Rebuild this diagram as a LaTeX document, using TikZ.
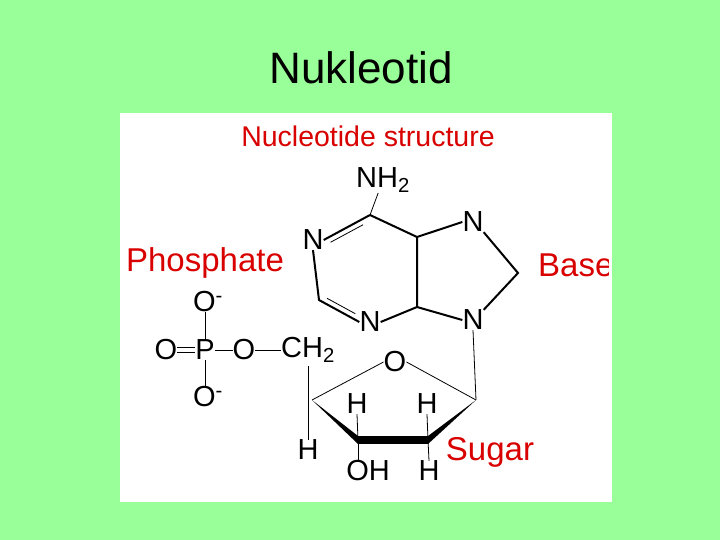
\documentclass[tikz,border=0pt]{standalone}
\usepackage{fontspec}
\setmainfont{Liberation Sans}
\usetikzlibrary{calc}
\begin{document}
\begin{tikzpicture}[x=1pt,y=-1pt,
  atom/.style={font=\fontsize{29}{29}\selectfont,inner sep=0pt},
  lab/.style={font=\fontsize{33}{33}\selectfont,text=red!85!black,inner sep=0pt},
  bond/.style={line width=2pt},
  thin/.style={line width=0.8pt}]
\fill[fill={rgb,255:red,153;green,255;blue,153}] (0,0) rectangle (720,540);
\useasboundingbox (0,0) rectangle (720,540);
\fill[white] (120,113) rectangle (612,502);
\node[font=\fontsize{44}{44}\selectfont] (title) at (361,68) {Nukleotid};
\node[font=\fontsize{28.5}{28.5}\selectfont,text=red!85!black] (sub) at (368,136) {Nucleotide structure};
\node[lab] (phos) at (205,263) {Phosphate};
\begin{scope}
\clip (120,113) rectangle (608,502);
\node[lab,anchor=west] (base) at (538,265) {Base};
\end{scope}
\node[lab] (sugar) at (490,452) {Sugar};
% base atoms
\node[atom] (nh2) at (383,180) {NH\textsubscript{2}};
\coordinate (c6) at (370,215);
\node[atom] (n1) at (313,240) {N};
\coordinate (c2) at (319,300);
\node[atom] (n3) at (370,322) {N};
\coordinate (c4) at (417,307);
\coordinate (c5) at (417,237);
\node[atom] (n7) at (473,222) {N};
\coordinate (c8) at (518,273);
\node[atom] (n9) at (473,320) {N};
\draw[thin] (nh2) -- (c6);
\draw[bond] (c6) -- (n1.east) ;
\draw[thin] ($(c6)!0.15!(n1.east)+(0,6)$) -- ($(c6)!0.85!(n1.east)+(0,6)$);
\draw[bond] (n1.south) -- (c2) -- (n3.west);
\draw[thin] ($(c2)!0.15!(n3.west)+(2,-5)$) -- ($(c2)!0.85!(n3.west)+(2,-5)$);
\draw[bond] (n3.east) -- (c4) -- (c5) -- (c6);
\draw[bond] (c5) -- (n7.west);
\draw[bond] (n7.south east) -- (c8) -- (n9.north east);
\draw[bond] (n9.west) -- (c4);
% sugar
\node[atom] (o4) at (395,362) {O};
\coordinate (c1) at (476,400);
\coordinate (c2p) at (428,440);
\coordinate (c3p) at (358,440);
\coordinate (c4p) at (312,400);
\draw[thin] (n9.south) -- (c1);
\draw[thin] (c4p) -- (o4.west);
\draw[thin] (o4.east) -- (c1);
\fill (c4p) -- ($(c3p)+(0,-4)$) -- ($(c3p)+(0,4)$) -- cycle;
\fill ($(c3p)+(0,-4)$) rectangle ($(c2p)+(0,4)$);
\fill (c1) -- ($(c2p)+(0,-4)$) -- ($(c2p)+(0,4)$) -- cycle;
\node[atom] (h1) at (357,404) {H};
\node[atom] (h2) at (427,404) {H};
\node[atom] (h3) at (308,450) {H};
\node[atom] (oh) at (368,471) {OH};
\node[atom] (h4) at (429,471) {H};
\draw[thin] (h1.south) -- (c3p);
\draw[thin] (h2.south) -- (c2p);
\draw[thin] (c3p) -- (c3p|-oh.north);
\draw[thin] (c2p) -- (h4.north);
% phosphate
\node[atom] (p) at (205,350) {P};
\node[atom] (ol) at (166,350) {O};
\node[atom] (or) at (244,350) {O};
\node[atom] (ch2) at (308,350) {CH\textsubscript{2}};
\node[atom] (ot) at (208,302) {O\textsuperscript{-}};
\node[atom] (ob) at (208,397) {O\textsuperscript{-}};
\draw[thin] ([yshift=-2.5]ol.east) -- ([yshift=-2.5]p.west);
\draw[thin] ([yshift=2.5]ol.east) -- ([yshift=2.5]p.west);
\draw[thin] (p.east) -- (or.west);
\draw[thin] (or.east) -- (ch2.west);
\draw[thin] (p.north) -- (p|-ot.south);
\draw[thin] (p.south) -- (p|-ob.north);
\draw[thin] (308,366) -- (h3.north);
\end{tikzpicture}
\end{document}
